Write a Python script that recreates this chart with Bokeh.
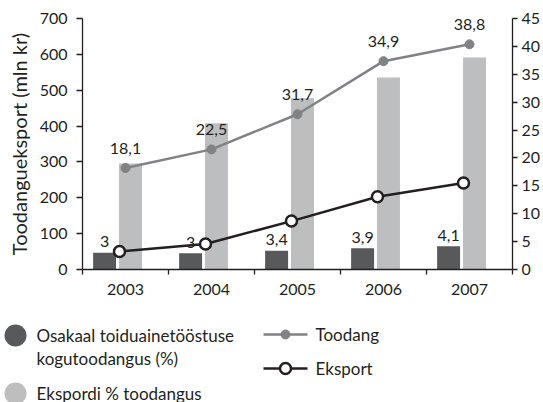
from bokeh.plotting import figure
from bokeh.models import Range1d, LinearAxis, FixedTicker, ColumnDataSource
from bokeh.embed import file_html
from bokeh.resources import INLINE
from bokeh.core.properties import value
from bokeh.transform import dodge

# ---- data ----
years = ["2003", "2004", "2005", "2006", "2007"]
toodang = [283, 335, 433, 581, 628]          # mln kr (left axis)
eksport = [50, 71, 135, 203, 241]            # mln kr (left axis)
osakaal = [3.0, 2.9, 3.35, 3.8, 4.15]        # % (right axis)
osakaal_labels = ["3", "3", "3,4", "3,9", "4,1"]
ekspordi_pct = [19.0, 26.2, 30.7, 34.4, 38.0]  # % (right axis)
ekspordi_labels = ["18,1", "22,5", "31,7", "34,9", "38,8"]
left_ticks = [0, 100, 200, 300, 400, 500, 600, 700]
right_ticks = [0, 5, 10, 15, 20, 25, 30, 35, 40, 45]

FONT = "Lato"
TXT = "#231f20"
DARK = "#58595b"
LIGHT = "#bcbec0"
GRAY = "#808285"

xc = [i + 0.5 for i in range(len(years))]
src = ColumnDataSource(dict(x=xc, toodang=toodang, eksport=eksport, osakaal=osakaal,
                            osakaal_labels=osakaal_labels, ekspordi_pct=ekspordi_pct,
                            ekspordi_labels=ekspordi_labels))

p = figure(width=543, height=308, x_range=Range1d(0, len(years)),
           y_range=Range1d(left_ticks[0], left_ticks[-1]),
           output_backend="svg", toolbar_location=None,
           min_border_left=82, min_border_right=30, min_border_top=18, min_border_bottom=39)
p.extra_y_ranges = {"pct": Range1d(right_ticks[0], right_ticks[-1])}
p.outline_line_color = None
p.xgrid.visible = False
p.ygrid.visible = False
p.background_fill_color = None
p.border_fill_color = None

def style_axis(ax):
    ax.axis_line_color = TXT
    ax.axis_line_width = 1.3
    ax.major_tick_line_color = TXT
    ax.major_tick_line_width = 1.3
    ax.minor_tick_line_color = TXT
    ax.minor_tick_line_width = 1.3
    ax.major_label_text_font = FONT
    ax.major_label_text_font_size = "16px"
    ax.major_label_text_color = TXT

xa = p.xaxis[0]
style_axis(xa)
xa.ticker = FixedTicker(ticks=xc, minor_ticks=list(range(len(years) + 1)))
xa.major_label_overrides = {x: y for x, y in zip(xc, years)}
xa.major_tick_out = 0
xa.major_tick_in = 0
xa.minor_tick_out = 5
xa.minor_tick_in = 0
xa.major_label_standoff = 9

ya = p.yaxis[0]
style_axis(ya)
ya.ticker = FixedTicker(ticks=left_ticks)
ya.major_tick_out = 6
ya.major_tick_in = 0
ya.minor_tick_line_color = None
ya.major_label_standoff = 9
ya.axis_label = "Toodangueksport (mln kr)"
ya.axis_label_text_font = FONT
ya.axis_label_text_font_size = "20px"
ya.axis_label_text_font_style = "normal"
ya.axis_label_text_color = TXT
ya.axis_label_standoff = 6

ra = LinearAxis(y_range_name="pct", ticker=FixedTicker(ticks=right_ticks))
style_axis(ra)
ra.major_tick_out = 5
ra.major_tick_in = 0
ra.minor_tick_line_color = None
ra.major_label_standoff = 4
p.add_layout(ra, "right")

BW = 0.267
p.vbar(x=dodge("x", -0.243), top="osakaal", width=BW, bottom=0, y_range_name="pct",
       source=src, fill_color=DARK, line_color=None)
p.vbar(x=dodge("x", 0.058), top="ekspordi_pct", width=BW, bottom=0, y_range_name="pct",
       source=src, fill_color=LIGHT, line_color=None)

p.line("x", "toodang", source=src, line_color=GRAY, line_width=2.5)
p.scatter("x", "toodang", source=src, size=9, fill_color=GRAY, line_color=GRAY)

p.line(dodge("x", -0.07), "eksport", source=src, line_color=TXT, line_width=2.5)
p.scatter(dodge("x", -0.07), "eksport", source=src, size=11, fill_color="white",
          line_color=TXT, line_width=2.5)

p.text("x", "toodang", text="ekspordi_labels", source=src, y_offset=-20,
       text_align="center", text_baseline="middle", text_font=value(FONT),
       text_font_size="16px", text_color=TXT)
p.text(dodge("x", -0.243), "osakaal", text="osakaal_labels", source=src, y_range_name="pct",
       y_offset=-11, text_align="center", text_baseline="middle", text_font=value(FONT),
       text_font_size="16px", text_color=TXT)

# ---- legend panel (separate root, full-width frame) ----
LH = 94
leg = figure(width=543, height=LH, x_range=Range1d(0, 543), y_range=Range1d(LH, 0),
             output_backend="svg", toolbar_location=None, min_border=0,
             x_axis_type=None, y_axis_type=None)
leg.outline_line_color = None
leg.grid.visible = False
leg.background_fill_color = None
leg.border_fill_color = None

leg.scatter([15], [27], size=22, fill_color=DARK, line_color=None)
leg.scatter([15], [85], size=22, fill_color=LIGHT, line_color=None)
kw = dict(text_font=value(FONT), text_font_size="17px", text_color=TXT,
          text_baseline="middle", text_align="left")
leg.text([36], [27], text=["Osakaal toiduainetööstuse"], **kw)
leg.text([36], [50], text=["kogutoodangus (%)"], **kw)
leg.text([36], [85], text=["Ekspordi % toodangus"], **kw)

leg.line([263, 307], [26, 26], line_color=GRAY, line_width=2.5)
leg.scatter([285], [26], size=9, fill_color=GRAY, line_color=GRAY)
leg.text([315], [26], text=["Toodang"], **kw)

leg.line([263, 307], [60, 60], line_color=TXT, line_width=2.5)
leg.scatter([285], [60], size=11, fill_color="white", line_color=TXT, line_width=2.5)
leg.text([315], [60], text=["Eksport"], **kw)

open("out.html", "w").write(file_html([p, leg], INLINE))
